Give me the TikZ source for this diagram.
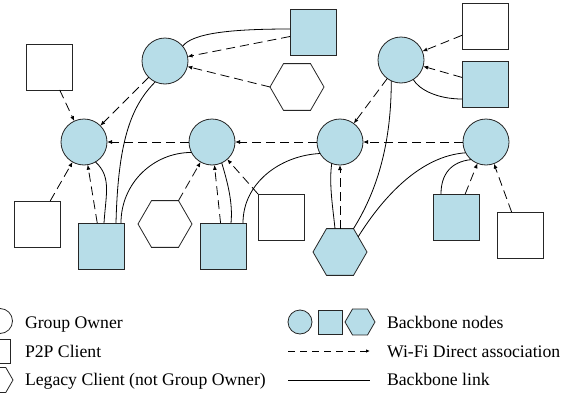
\documentclass[tikz,border=0pt]{standalone}
\usepackage{fontspec}
\setmainfont{Liberation Serif}
\usetikzlibrary{arrows.meta,shapes.geometric}
\definecolor{bbcol}{RGB}{183,221,232}
\begin{document}
\begin{tikzpicture}[x=1pt,y=-1pt,
  every node/.style={inner sep=0pt, outer sep=0pt},
  shp/.style={draw=black!85, line width=0.8pt},
  go/.style={shp, circle, minimum size=46pt},
  sq/.style={shp, rectangle, minimum size=46pt},
  hex/.style={shp, regular polygon, regular polygon sides=6, minimum size=54pt},
  bb/.style={fill=bbcol},
  wh/.style={fill=white},
  assoc/.style={line width=0.8pt, dash pattern=on 9pt off 5pt, -{Latex[length=5pt,width=4pt]}},
  link/.style={line width=0.8pt},
  lab/.style={anchor=base west, font=\fontsize{17.7}{20}\selectfont}
]
\useasboundingbox (0,0) rectangle (584,399);
\clip (0,0) rectangle (584,399);

% group owners
\node[go,bb] (C1) at (165,61) {};
\node[go,bb] (C2) at (84,142) {};
\node[go,bb] (C3) at (212,142) {};
\node[go,bb] (C4) at (340,142) {};
\node[go,bb] (C5) at (486,142) {};
\node[go,bb] (C6) at (401,60) {};
% squares
\node[sq,bb] (S1) at (313,32) {};
\node[sq,wh] (S2) at (49,67) {};
\node[sq,wh] (S3) at (485,26) {};
\node[sq,bb] (S4) at (485,84) {};
\node[sq,wh] (S5) at (37,224) {};
\node[sq,bb] (S6) at (101,246) {};
\node[sq,bb] (S7) at (223,246) {};
\node[sq,wh] (S8) at (281,217) {};
\node[sq,bb] (S9) at (456,217) {};
\node[sq,wh] (S10) at (520,235) {};
% hexagons
\node[hex,wh] (H1) at (297,87) {};
\node[hex,wh] (H2) at (165,224) {};
\node[hex,bb] (H3) at (340,252) {};

% Wi-Fi Direct associations
\draw[assoc] (S1) -- (C1);
\draw[assoc] (H1.180) -- (C1);
\draw[assoc] (C1) -- (C2);
\draw[assoc] (S2) -- (C2);
\draw[assoc] (C3) -- (C2);
\draw[assoc] (C4) -- (C3);
\draw[assoc] (C5) -- (C4);
\draw[assoc] (C6) -- (C4);
\draw[assoc] (S3) -- (C6);
\draw[assoc] (S4) -- (C6);
\draw[assoc] (S5) -- (C2);
\draw[assoc] (S6) -- (C2);
\draw[assoc] (H2.60) -- (C3);
\draw[assoc] (S7) -- (C3);
\draw[assoc] (S8.north west) -- (C3);
\draw[assoc] (H3) -- (C4);
\draw[assoc] (S9) -- (C5);
\draw[assoc] (S10) -- (C5);

% backbone links
\draw[link] (C1.40) .. controls +(10,-13) and +(-60,0) .. ([yshift=3pt]S1.west);
\draw[link] (C1.245) .. controls +(-25,25) and +(2,-80) .. ([xshift=15pt]S6.north);
\draw[link] (C2.300) .. controls +(16,15) and +(2,-30) .. ([xshift=3pt]S6.north);
\draw[link] ([xshift=-3pt]S6.north east) .. controls +(0,-40) and +(-38,0) .. (C3.207);
\draw[link] (C3.295) .. controls +(6,20) and +(2,-20) .. ([xshift=8pt]S7.north);
\draw[link] ([xshift=-3pt]S7.north east) .. controls +(0,-40) and +(-40,2) .. (C4.210);
\draw[link] (C4.249) .. controls +(-3,20) and +(-2,-20) .. ([xshift=-5pt]H3.north);
\draw[link] (C6.245) .. controls +(0,60) and +(25,-40) .. (H3.60);
\draw[link] (C5.208) .. controls +(-45,3) and +(25,-40) .. (H3.40);
\draw[link] (C6.302) .. controls +(6,10) and +(-25,0) .. ([yshift=-15pt]S4.west);
\draw[link] (C5.230) .. controls +(-20,2) and +(0,-20) .. ([xshift=-15pt]S9.north);

% legend, left
\node[shp, circle, minimum size=25pt, fill=white] (LG1) at (0,321) {};
\node[shp, rectangle, minimum size=24pt, fill=white] (LG2) at (-2,351) {};
\node[shp, regular polygon, regular polygon sides=6, minimum size=29pt, fill=white] (LG3) at (-1.5,380) {};
\node[lab] (T1) at (25,328.5) {Group Owner};
\node[lab] (T2) at (25,357) {P2P Client};
\node[lab] (T3) at (25,385.5) {Legacy Client (not Group Owner)};

% legend, right
\node[shp, circle, minimum size=24pt, bb] (LB1) at (300,322) {};
\node[shp, rectangle, minimum size=24pt, bb] (LB2) at (330,322) {};
\node[shp, regular polygon, regular polygon sides=6, minimum size=30pt, bb] (LB3) at (360,322) {};
\coordinate (LD1) at (288,351);
\coordinate (LD2) at (370,351);
\coordinate (LL1) at (288,380);
\coordinate (LL2) at (370,380);
\draw[line width=0.8pt, dash pattern=on 7pt off 5pt, -{Latex[length=4pt,width=3.5pt]}] (LD1) -- (LD2);
\draw[link] (LL1) -- (LL2);
\node[lab] (T4) at (387,328.5) {Backbone nodes};
\node[lab] (T5) at (387,357) {Wi-Fi Direct association};
\node[lab] (T6) at (387,385.5) {Backbone link};
\end{tikzpicture}
\end{document}
